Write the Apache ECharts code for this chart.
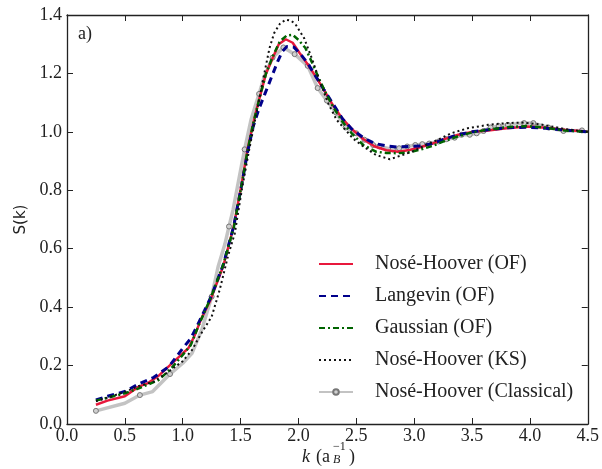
<!DOCTYPE html>
<html><head><meta charset="utf-8">
<script src="https://cdn.jsdelivr.net/npm/echarts@6/dist/echarts.min.js"></script>
<style>html,body{margin:0;padding:0;background:#fff}#c{width:602px;height:469px}</style>
</head><body><div id="c"></div>
<script>
var xTicks = [0.0,0.5,1.0,1.5,2.0,2.5,3.0,3.5,4.0,4.5];
var yTicks = [0.0,0.2,0.4,0.6,0.8,1.0,1.2,1.4];
var seriesNames = ['Nosé-Hoover (OF)','Langevin (OF)','Gaussian (OF)','Nosé-Hoover (KS)','Nosé-Hoover (Classical)'];

var redK = [0.25,0.35,0.5,0.62,0.7,0.8,0.9,1.0,1.05,1.1,1.16,1.24,1.35,1.44,1.51,1.56,1.61,1.66,1.72,1.78,1.83,1.89,1.95,2.01,2.07,2.14,2.22,2.3,2.38,2.46,2.56,2.66,2.76,2.86,2.96,3.06,3.16,3.26,3.38,3.5,3.64,3.8,3.98,4.14,4.3,4.5];
var redS = [0.066,0.08,0.095,0.128,0.14,0.168,0.205,0.242,0.26,0.30,0.36,0.425,0.54,0.676,0.824,0.94,1.03,1.11,1.20,1.255,1.30,1.317,1.305,1.27,1.237,1.195,1.144,1.09,1.045,1.01,0.975,0.95,0.937,0.932,0.938,0.948,0.96,0.975,0.99,1.0,1.005,1.012,1.018,1.014,1.007,1.0];

var blueK = [0.25,0.35,0.5,0.62,0.75,0.88,1.0,1.07,1.13,1.19,1.25,1.35,1.44,1.51,1.56,1.61,1.66,1.71,1.76,1.82,1.86,1.9,1.96,2.02,2.08,2.15,2.22,2.3,2.38,2.46,2.56,2.66,2.76,2.86,2.96,3.06,3.16,3.26,3.38,3.5,3.64,3.8,3.98,4.14,4.3,4.5];
var blueS = [0.082,0.095,0.111,0.137,0.16,0.196,0.259,0.293,0.34,0.39,0.44,0.545,0.676,0.82,0.93,1.02,1.08,1.13,1.18,1.24,1.275,1.292,1.29,1.265,1.235,1.19,1.145,1.095,1.045,1.01,0.98,0.96,0.952,0.948,0.95,0.952,0.96,0.975,0.99,1.0,1.007,1.014,1.016,1.012,1.006,1.0];

var greenK = [0.25,0.35,0.5,0.62,0.79,0.9,1.0,1.07,1.13,1.19,1.25,1.35,1.44,1.51,1.56,1.61,1.66,1.72,1.78,1.84,1.9,1.95,2.0,2.06,2.12,2.18,2.23,2.3,2.38,2.46,2.56,2.67,2.76,2.86,2.96,3.06,3.16,3.26,3.38,3.5,3.64,3.8,3.98,4.14,4.3,4.5];
var greenS = [0.08,0.09,0.105,0.122,0.15,0.19,0.236,0.27,0.33,0.385,0.44,0.545,0.67,0.82,0.935,1.03,1.11,1.2,1.26,1.31,1.33,1.332,1.315,1.287,1.235,1.18,1.138,1.085,1.035,0.995,0.955,0.932,0.928,0.927,0.93,0.94,0.952,0.968,0.985,0.998,1.008,1.016,1.02,1.014,1.005,1.0];

var ksK = [0.25,0.35,0.5,0.62,0.75,0.88,1.0,1.08,1.16,1.25,1.32,1.39,1.45,1.51,1.57,1.63,1.7,1.75,1.79,1.84,1.89,1.94,1.98,2.05,2.12,2.19,2.26,2.33,2.4,2.47,2.56,2.67,2.79,2.9,3.0,3.1,3.2,3.32,3.46,3.64,3.8,3.93,4.1,4.3,4.5];
var ksS = [0.078,0.09,0.11,0.13,0.145,0.18,0.215,0.253,0.31,0.367,0.46,0.573,0.653,0.8,0.93,1.05,1.19,1.287,1.338,1.37,1.384,1.38,1.365,1.32,1.247,1.167,1.095,1.041,1.01,0.978,0.95,0.921,0.906,0.921,0.935,0.955,0.972,0.995,1.012,1.024,1.03,1.032,1.025,1.01,1.0];

var clK = [0.25,0.5,0.63,0.74,0.89,1.0,1.08,1.164,1.25,1.307,1.364,1.40,1.435,1.506,1.535,1.59,1.66,1.705,1.776,1.87,1.967,2.08,2.166,2.246,2.325,2.408,2.5,2.57,2.645,2.70,2.815,2.87,2.94,3.01,3.07,3.13,3.21,3.28,3.35,3.41,3.48,3.54,3.60,3.66,3.73,3.81,3.95,4.03,4.16,4.29,4.45];
var clS = [0.045,0.071,0.099,0.111,0.171,0.208,0.242,0.322,0.436,0.54,0.615,0.676,0.733,0.881,0.94,1.041,1.13,1.19,1.254,1.289,1.266,1.226,1.15,1.107,1.066,1.015,0.995,0.973,0.955,0.95,0.94,0.944,0.95,0.955,0.958,0.96,0.967,0.975,0.98,0.99,0.99,0.995,1.003,1.015,1.02,1.024,1.03,1.03,1.015,1.003,1.005];
var clMarkedK = [0.25,0.63,0.89,1.25,1.40,1.535,1.66,1.776,1.87,1.967,2.08,2.166,2.246,2.325,2.408,2.5,2.57,2.645,2.70,2.815,2.87,2.94,3.01,3.07,3.13,3.21,3.28,3.35,3.41,3.48,3.54,3.60,3.66,3.73,3.81,3.95,4.03,4.16,4.29,4.45];

function pairs(k, s) { return k.map(function (v, i) { return [v, s[i]]; }); }
var clData = clK.map(function (v, i) {
  var item = { value: [v, clS[i]] };
  if (clMarkedK.indexOf(v) < 0) item.symbol = 'none';
  return item;
});

var SERIF = '"Liberation Serif","DejaVu Serif",serif';
var SANS = '"DejaVu Sans",sans-serif';
var TXT = '#222';
var chart = echarts.init(document.getElementById('c'), null, { renderer: 'canvas' });
var axisCommon = {
  type: 'value',
  axisLine: { show: true, onZero: false, lineStyle: { color: '#222', width: 1.3 } },
  axisTick: { show: true, inside: true, length: 6, lineStyle: { color: '#222', width: 1 } },
  splitLine: { show: false }
};
var hidden = { opacity: 0, color: 'rgba(0,0,0,0)', borderWidth: 0 };
chart.setOption({
  animation: false,
  backgroundColor: '#fff',
  grid: { left: 67, right: 8, top: 15, bottom: 45, containLabel: false },
  xAxis: [
    Object.assign({}, axisCommon, {
      min: xTicks[0], max: xTicks[xTicks.length - 1], interval: 0.5, position: 'bottom',
      axisLabel: { color: TXT, fontFamily: SERIF, fontSize: 18, margin: 3,
        formatter: function (v) { return v.toFixed(1); } }
    }),
    Object.assign({}, axisCommon, {
      min: xTicks[0], max: xTicks[xTicks.length - 1], interval: 0.5, position: 'top',
      axisLabel: { show: false }
    })
  ],
  yAxis: [
    Object.assign({}, axisCommon, {
      min: yTicks[0], max: yTicks[yTicks.length - 1], interval: 0.2, position: 'left',
      axisLabel: { color: TXT, fontFamily: SERIF, fontSize: 18, margin: 5,
        formatter: function (v) { return v.toFixed(1); } },
      name: 'S(k)', nameLocation: 'middle', nameGap: 37, nameRotate: 90,
      nameTextStyle: { color: TXT, fontFamily: SANS, fontSize: 15 }
    }),
    Object.assign({}, axisCommon, {
      min: yTicks[0], max: yTicks[yTicks.length - 1], interval: 0.2, position: 'right',
      axisLabel: { show: false }
    })
  ],
  legend: {
    orient: 'vertical', left: 318, top: 254, padding: 0,
    itemWidth: 34, itemHeight: 7, itemGap: 12,
    textStyle: { color: TXT, fontFamily: SERIF, fontSize: 20, padding: [0, 0, 0, 17] },
    data: [
      { name: seriesNames[0], itemStyle: hidden },
      { name: seriesNames[1], itemStyle: hidden },
      { name: seriesNames[2], itemStyle: hidden },
      { name: seriesNames[3], itemStyle: hidden },
      { name: seriesNames[4] }
    ]
  },
  graphic: [
    { type: 'text', left: 78, top: 25, style: { text: 'a)', font: '18px ' + SERIF, fill: TXT } },
    { type: 'text', left: 302, top: 448, style: { text: 'k', font: 'italic 18px ' + SERIF, fill: TXT } },
    { type: 'text', left: 316, top: 448, style: { text: '(a', font: '18px ' + SERIF, fill: TXT } },
    { type: 'text', left: 333, top: 441, style: { text: '−1', font: '12px ' + SERIF, fill: TXT } },
    { type: 'text', left: 333, top: 454, style: { text: 'B', font: 'italic 12px ' + SERIF, fill: TXT } },
    { type: 'text', left: 349, top: 448, style: { text: ')', font: '18px ' + SERIF, fill: TXT } }
  ],
  series: [
    { name: seriesNames[0], type: 'line', data: pairs(redK, redS), showSymbol: false, symbol: 'none',
      lineStyle: { color: '#e8183c', width: 2.5 }, itemStyle: { color: '#e8183c' }, z: 3 },
    { name: seriesNames[1], type: 'line', data: pairs(blueK, blueS), showSymbol: false, symbol: 'none',
      lineStyle: { color: '#00008b', width: 3, type: [7, 5] }, itemStyle: { color: '#00008b' }, z: 4 },
    { name: seriesNames[2], type: 'line', data: pairs(greenK, greenS), showSymbol: false, symbol: 'none',
      lineStyle: { color: '#006400', width: 2.5, type: [6, 3, 2, 3] }, itemStyle: { color: '#006400' }, z: 5 },
    { name: seriesNames[3], type: 'line', data: pairs(ksK, ksS), showSymbol: false, symbol: 'none',
      lineStyle: { color: '#111', width: 2, type: [2, 3] }, itemStyle: { color: '#111' }, z: 6 },
    { name: seriesNames[4], type: 'line', data: clData, symbol: 'circle', symbolSize: 5, showSymbol: true,
      lineStyle: { color: '#b8b8b8', width: 3.5, opacity: 0.85 },
      itemStyle: { color: '#d0d0d0', borderColor: '#777', borderWidth: 1 }, z: 2 }
  ]
});
</script></body></html>
